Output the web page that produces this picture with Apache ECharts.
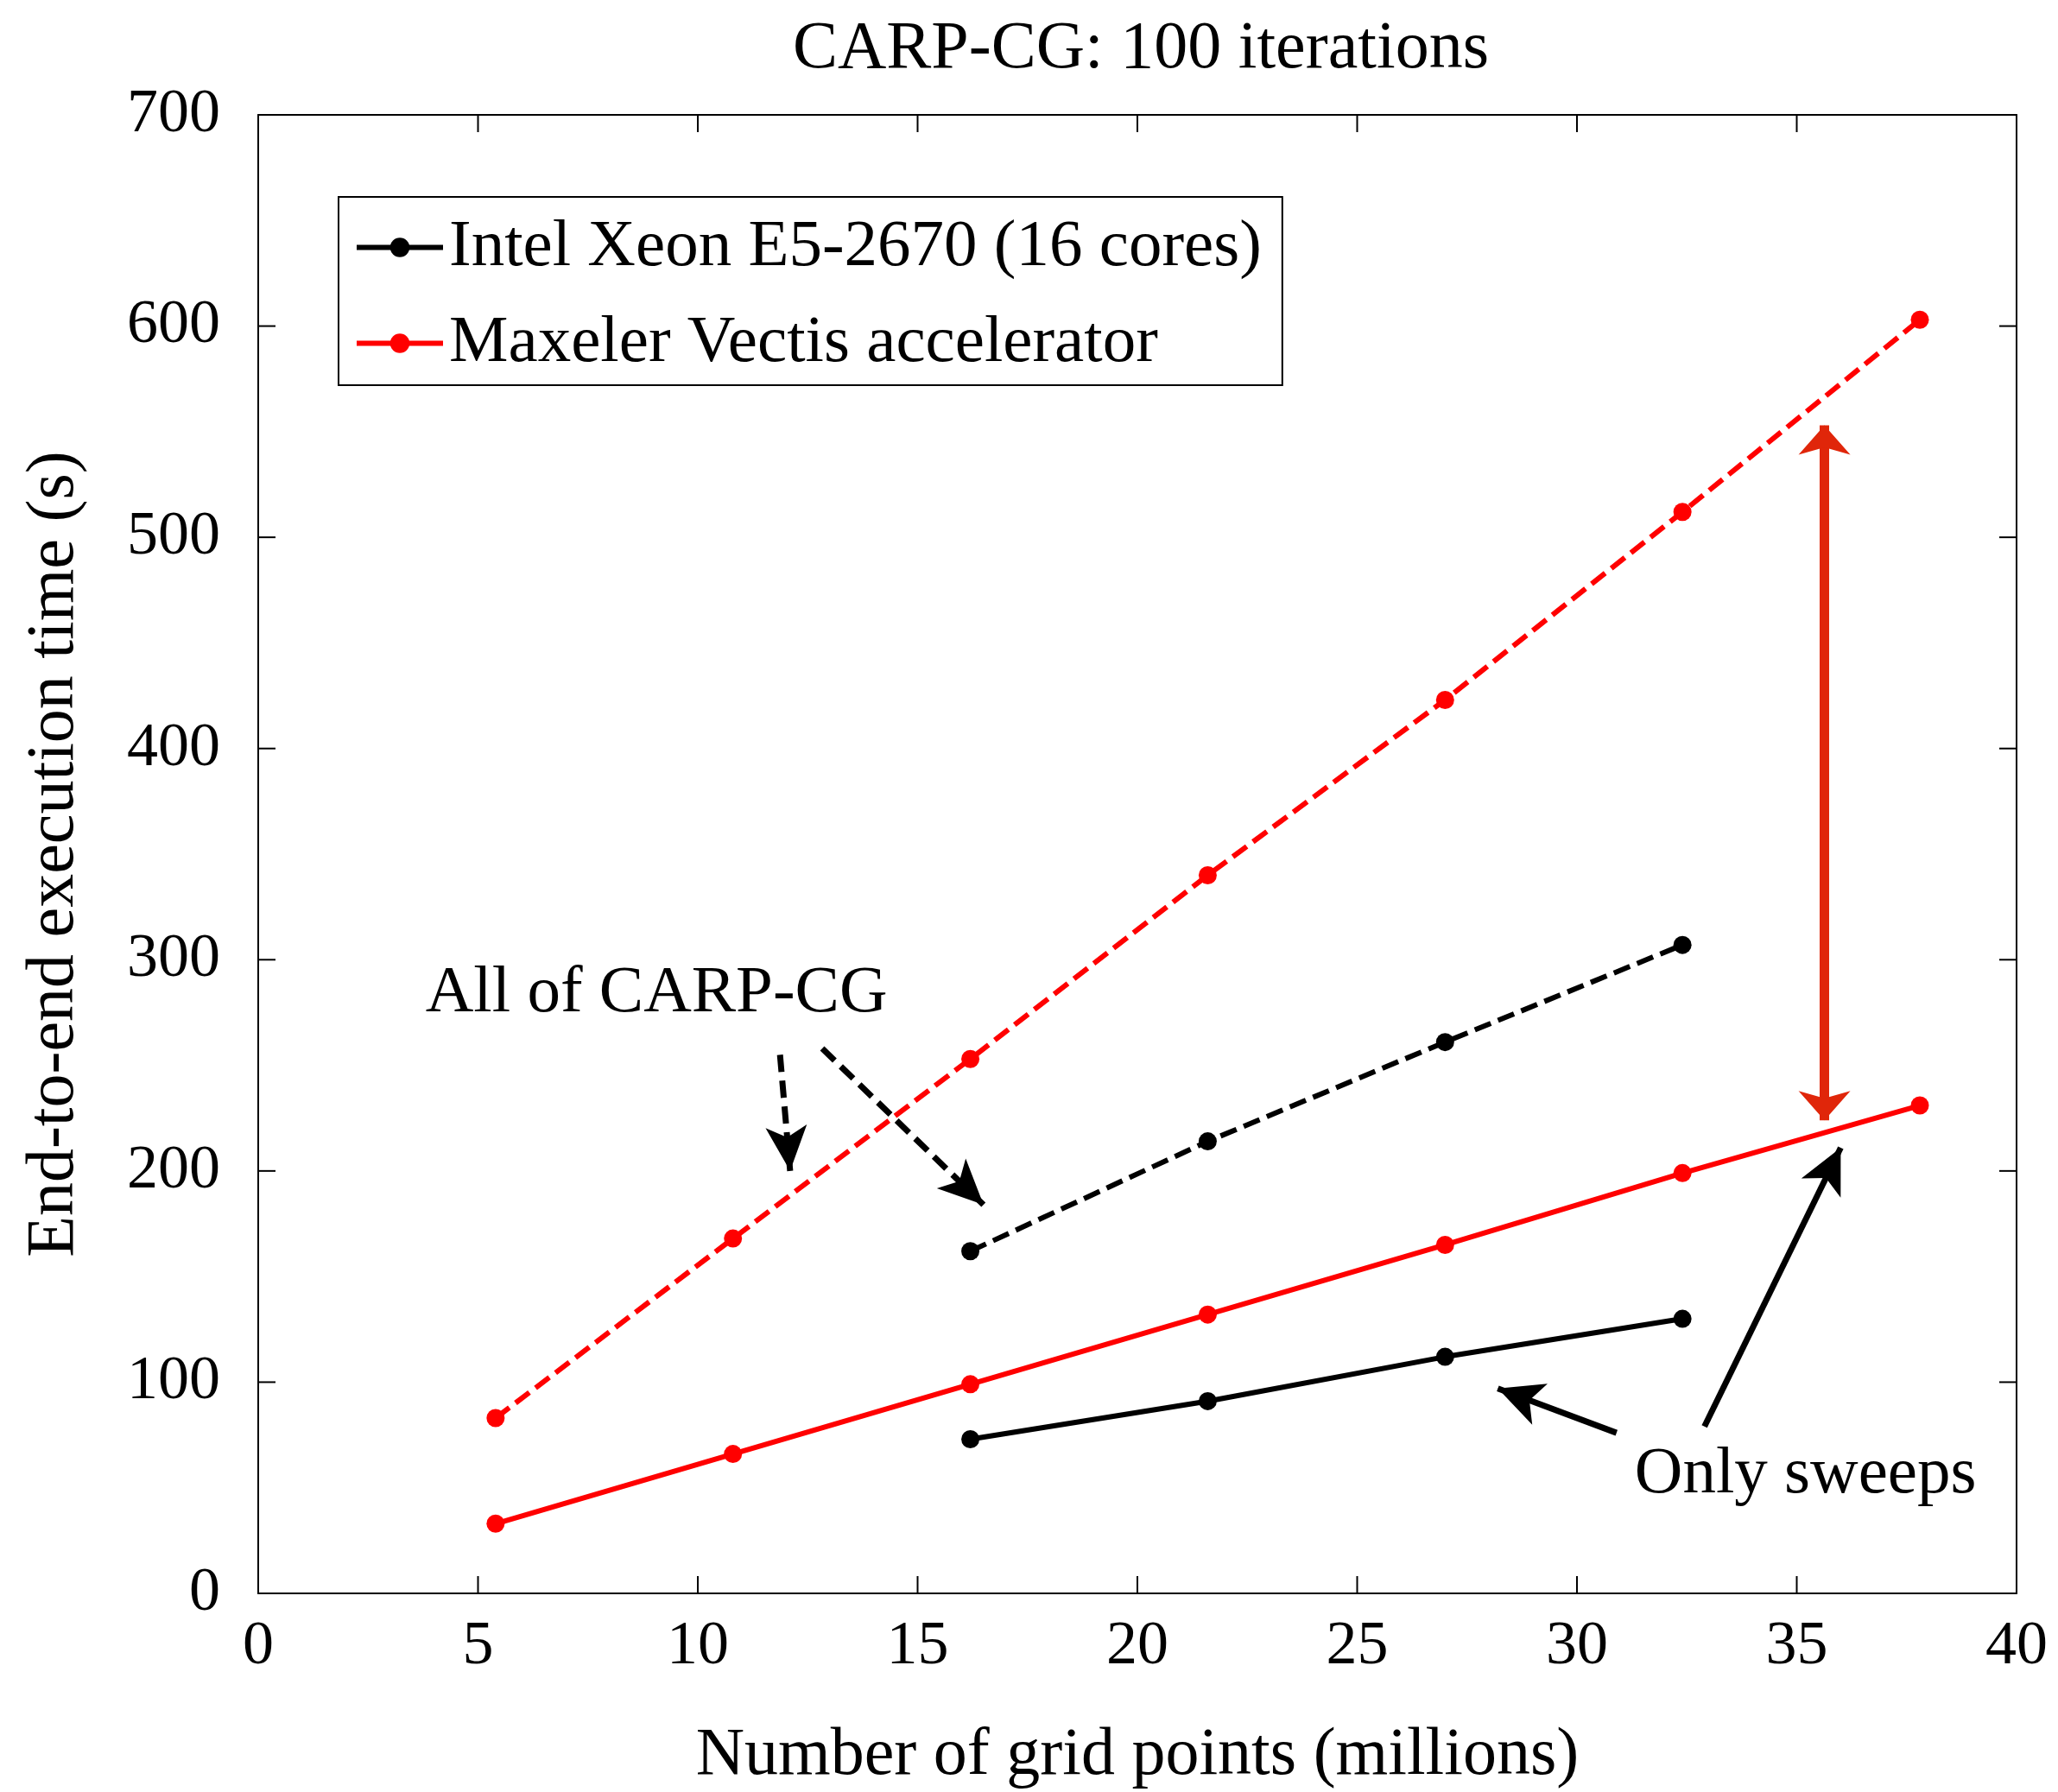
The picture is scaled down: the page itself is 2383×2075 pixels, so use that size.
<!DOCTYPE html>
<html>
<head>
<meta charset="utf-8">
<script src="https://cdn.jsdelivr.net/npm/echarts@6/dist/echarts.min.js"></script>
<style>html,body{margin:0;padding:0;background:#fff;}#c{width:2383px;height:2075px;}</style>
</head>
<body>
<div id="c"></div>
<script>
// ---- data ----
const gridPoints = [5.4, 10.8, 16.2, 21.6, 27.0, 32.4, 37.8];        // millions
const maxelerAll = [83, 168, 253, 340, 423, 512, 603];               // red dashed
const maxelerSweeps = [33, 66, 99, 132, 165, 199, 231];              // red solid
const xeonPoints = [16.2, 21.6, 27.0, 32.4];
const xeonAll = [162, 214, 261, 307];                                // black dashed
const xeonSweeps = [73, 91, 112, 130];                               // black solid
const seriesNames = ['Intel Xeon E5-2670 (16 cores)', 'Maxeler Vectis accelerator'];
const xTicks = [0, 5, 10, 15, 20, 25, 30, 35, 40];
const yTicks = [0, 100, 200, 300, 400, 500, 600, 700];
// annotations (data coordinates)
const allArrows = [[[11.87, 255], [12.1, 200]], [[12.83, 258], [16.5, 184]]];
const sweepArrows = [[[30.9, 76], [28.2, 97]], [[32.9, 79], [36.0, 211]]];
const gapArrow = [[35.63, 553], [35.63, 224]];
const labelAll = {text: 'All of CARP-CG', at: [9.06, 284]};
const labelSweeps = {text: 'Only sweeps', at: [35.2, 56]};

const FONT = 'Liberation Serif';
const pair = (xs, ys) => xs.map((x, i) => [x, ys[i]]);

const chart = echarts.init(document.getElementById('c'), null, {renderer: 'canvas'});
const lineSeries = (name, color, xs, ys, dashed) => ({
  name, type: 'line', data: pair(xs, ys), xAxisIndex: 0, yAxisIndex: 0,
  symbol: 'circle', symbolSize: 21, showSymbol: true,
  itemStyle: {color},
  lineStyle: {color, width: 6, type: dashed ? [20, 9] : 'solid'},
  emphasis: {disabled: true}, silent: true, z: 3
});
const axisLine = {show: true, onZero: false, lineStyle: {color: '#000', width: 2}};
const frameAxis = (extra) => Object.assign({
  type: 'value', axisLine,
  axisTick: {show: false},
  axisLabel: {show: false}, splitLine: {show: false}
}, extra);

const option = {
  animation: false,
  backgroundColor: '#fff',
  title: {
    text: 'CARP-CG: 100 iterations', left: 1316, top: 14, textAlign: 'center',
    textStyle: {fontFamily: FONT, fontSize: 78, fontWeight: 'normal', color: '#000'}
  },
  legend: {
    data: seriesNames.map(n => ({name: n})), orient: 'vertical', left: 392, top: 228,
    padding: [20, 24, 10, 18], itemGap: 34, itemWidth: 100, itemHeight: 28,
    borderColor: '#000', borderWidth: 2, backgroundColor: '#fff',
    lineStyle: {width: 6, type: 'solid'},
    textStyle: {fontFamily: FONT, fontSize: 77, color: '#000', lineHeight: 74, padding: [0, 0, 0, 2]},
    selectedMode: false
  },
  grid: {left: 299, top: 133, right: 48, bottom: 230, containLabel: false, outerBoundsMode: 'none'},
  xAxis: [{
    type: 'value', min: 0, max: 40, interval: 5, position: 'bottom',
    name: 'Number of grid points (millions)', nameLocation: 'middle', nameGap: 150,
    nameTextStyle: {fontFamily: FONT, fontSize: 78, color: '#000'},
    axisLine,
    axisTick: {show: false},
    axisLabel: {fontFamily: FONT, fontSize: 72, color: '#000', margin: 26, formatter: v => xTicks.includes(v) ? String(v) : ''},
    splitLine: {show: false}
  },
    frameAxis({min: 0, max: 40, interval: 5, position: 'top'})
  ],
  yAxis: [{
    type: 'value', min: 0, max: 700, interval: 100, position: 'left',
    name: 'End-to-end execution time (s)', nameLocation: 'middle', nameGap: 196,
    nameTextStyle: {fontFamily: FONT, fontSize: 78, color: '#000'},
    axisLine,
    axisTick: {show: false},
    axisLabel: {fontFamily: FONT, fontSize: 72, color: '#000', margin: 44, formatter: v => yTicks.includes(v) ? String(v) : ''},
    splitLine: {show: false}
  },
    frameAxis({min: 0, max: 700, interval: 100, position: 'right'})
  ],
  series: [
    lineSeries(seriesNames[0], '#000', xeonPoints, xeonSweeps, false),
    lineSeries(seriesNames[1], '#ff0000', gridPoints, maxelerSweeps, false),
    lineSeries(seriesNames[0], '#000', xeonPoints, xeonAll, true),
    lineSeries(seriesNames[1], '#ff0000', gridPoints, maxelerAll, true),
    {
      name: 'annotations', type: 'scatter', data: [], silent: true, z: 5, xAxisIndex: 0, yAxisIndex: 0,
      markLine: {
        silent: true, animation: false, label: {show: false}, emphasis: {disabled: true},
        data: [
          ...allArrows.map(a => [
            {coord: a[0], symbol: 'none', lineStyle: {color: '#000', width: 7, type: [20, 10]}},
            {coord: a[1], symbol: 'arrow', symbolSize: [36, 52]}
          ]),
          ...sweepArrows.map(a => [
            {coord: a[0], symbol: 'none', lineStyle: {color: '#000', width: 7, type: 'solid'}},
            {coord: a[1], symbol: 'arrow', symbolSize: [38, 52]}
          ]),
          [
            {coord: gapArrow[0], symbol: 'arrow', symbolSize: [45, 34], lineStyle: {color: '#e0260a', width: 11, type: 'solid'}, itemStyle: {color: '#e0260a'}},
            {coord: gapArrow[1], symbol: 'arrow', symbolSize: [45, 34], itemStyle: {color: '#e0260a'}}
          ]
        ],
        itemStyle: {color: '#000'}
      },
      markPoint: {
        silent: true, symbol: 'circle', symbolSize: 0,
        label: {show: true, position: 'inside', fontFamily: FONT, fontSize: 77, color: '#000'},
        data: [labelAll, labelSweeps].map(l => ({coord: l.at, label: {formatter: l.text}}))
      }
    }
  ]
};
chart.setOption(option);

// inward-pointing tick marks on all four sides, placed through the axes' own scales
const TICK = 20;
const toPx = (v) => chart.convertToPixel({xAxisIndex: 0, yAxisIndex: 0}, v);
const xMin = xTicks[0], xMax = xTicks[xTicks.length - 1];
const yMin = yTicks[0], yMax = yTicks[yTicks.length - 1];
const tickStyle = {stroke: '#000', lineWidth: 2};
const ticks = [];
xTicks.slice(1, -1).forEach(v => {
  const b = toPx([v, yMin]), t = toPx([v, yMax]);
  ticks.push({type: 'line', silent: true, z: 10, shape: {x1: b[0], y1: b[1], x2: b[0], y2: b[1] - TICK}, style: tickStyle});
  ticks.push({type: 'line', silent: true, z: 10, shape: {x1: t[0], y1: t[1], x2: t[0], y2: t[1] + TICK}, style: tickStyle});
});
yTicks.slice(1, -1).forEach(v => {
  const l = toPx([xMin, v]), r = toPx([xMax, v]);
  ticks.push({type: 'line', silent: true, z: 10, shape: {x1: l[0], y1: l[1], x2: l[0] + TICK, y2: l[1]}, style: tickStyle});
  ticks.push({type: 'line', silent: true, z: 10, shape: {x1: r[0], y1: r[1], x2: r[0] - TICK, y2: r[1]}, style: tickStyle});
});
chart.setOption({graphic: {elements: ticks}});
</script>
</body>
</html>
